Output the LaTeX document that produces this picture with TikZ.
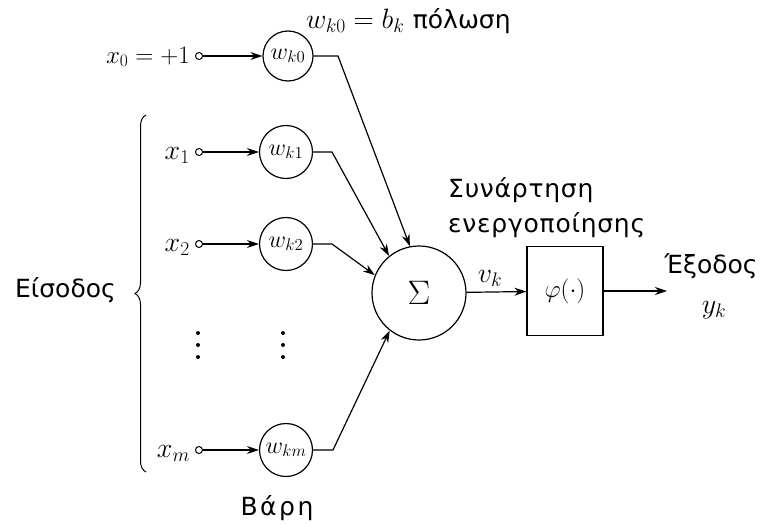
\documentclass[tikz,border=0pt]{standalone}
\usepackage{fix-cm}
\usepackage{fontspec}
\newfontfamily\gr{DejaVu Sans}
\usetikzlibrary{arrows.meta,decorations.pathreplacing}
\begin{document}
\begin{tikzpicture}[x=1pt,y=-1pt,
  wt/.style={circle,draw,line width=1.2pt,minimum size=53pt,inner sep=0pt,font=\fontsize{24}{24}\selectfont},
  inp/.style={circle,draw,line width=1pt,minimum size=7pt,inner sep=0pt},
  conn/.style={line width=1.2pt,-{Stealth[length=12pt,width=8pt]}},
  mlab/.style={font=\fontsize{28}{28}\selectfont,inner sep=0pt},
  glab/.style={font=\gr\fontsize{25}{25}\selectfont,inner sep=0pt},
  dot/.style={circle,fill,inner sep=0pt,minimum size=4pt},
]
\useasboundingbox (0,0) rectangle (761,525);
% weights
\node[wt,minimum size=50pt] (w0) at (288,56) {$w_{k0}$};
\node[wt] (w1) at (286,152) {$w_{k1}$};
\node[wt] (w2) at (286,244) {$w_{k2}$};
\node[wt] (wm) at (286,450) {$w_{km}$};
% input terminals
\node[inp] (i0) at (199,56) {};
\node[inp] (i1) at (199,152) {};
\node[inp] (i2) at (199,244) {};
\node[inp] (im) at (199,450) {};
% input labels
\node[mlab,font=\fontsize{25}{25}\selectfont,anchor=base east] (l0) at (190,63) {$x_0=+1$};
\node[mlab,anchor=base east] (l1) at (190,159) {$x_1$};
\node[mlab,anchor=base east] (l2) at (190,251) {$x_2$};
\node[mlab,anchor=base east] (lm) at (190,457) {$x_m$};
% dots
\foreach \yy in {333,345,357}{
  \node[dot] at (198,\yy) {};
  \node[dot] at (283,\yy) {};
}
% summing junction and activation
\node[circle,draw,line width=1.2pt,minimum size=94pt,inner sep=0pt] (sum) at (419,293) {\fontsize{34}{34}\selectfont$\Sigma$};
\node[draw,line width=1.2pt,minimum width=76pt,minimum height=89pt,inner sep=0pt,font=\fontsize{25}{25}\selectfont] (phi) at (565,291) {$\varphi(\cdot)$};
% bend points
\coordinate (b0) at (338,56);
\coordinate (b1) at (332,152);
\coordinate (b2) at (332,244);
\coordinate (bm) at (333,450);
\coordinate (out) at (667,291);
% connectors
\draw[conn] (i0) -- (w0);
\draw[conn] (i1) -- (w1);
\draw[conn] (i2) -- (w2);
\draw[conn] (im) -- (wm);
\draw[conn] (w0) -- (b0) -- (sum.101);
\draw[conn] (w1) -- (b1) -- (sum.129);
\draw[conn] (w2) -- (b2) -- (sum.158);
\draw[conn] (wm) -- (bm) -- (sum.232);
\draw[conn] (sum) -- (phi);
\draw[conn] (phi) -- (out);
% brace
\draw[line width=1pt,decorate,decoration={brace,amplitude=11pt}] (146,472) -- (146,115);
% text labels
\node[glab,anchor=base east] (in) at (116,297) {Είσοδος};
\node[glab,anchor=base] (weights) at (277,515) {\addfontfeatures{LetterSpace=10}Βάρη};
\node[anchor=base west,inner sep=0pt] (bias) at (306,28) {\fontsize{28}{28}\selectfont$w_{k0}=b_k$ \gr\fontsize{25}{25}\selectfont πόλωση};
\node[glab,anchor=base west] (act1) at (448,197) {\addfontfeatures{LetterSpace=3}Συνάρτηση};
\node[glab,anchor=base west] (act2) at (448,232) {\addfontfeatures{LetterSpace=3}ενεργοποίησης};
\node[mlab,anchor=base] (vk) at (490,282) {$v_k$};
\node[glab,anchor=base] (outl) at (711,273) {Έξοδος};
\node[mlab,anchor=base] (yk) at (714,313) {$y_k$};
\end{tikzpicture}
\end{document}
